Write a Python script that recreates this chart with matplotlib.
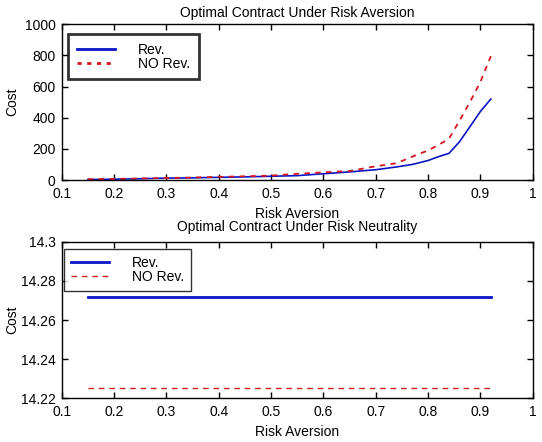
import matplotlib
matplotlib.use("Agg")
import matplotlib.pyplot as plt
from matplotlib.lines import Line2D

plt.rcParams['font.family'] = ['Liberation Sans', 'DejaVu Sans']

# Top panel data (risk aversion)
risk = [0.15, 0.20, 0.25, 0.30, 0.35, 0.40, 0.45, 0.50, 0.55, 0.60, 0.65,
        0.70, 0.74, 0.77, 0.80, 0.82, 0.84, 0.86, 0.88, 0.90, 0.92]
cost_rev = [3, 5, 8, 12, 14, 17, 20, 24, 28, 40, 52,
            66, 84, 100, 125, 150, 171, 245, 342, 440, 520]
cost_norev = [5, 7, 10, 13, 16, 20, 24, 28, 40, 49, 58,
              88, 108, 150, 190, 225, 265, 380, 500, 630, 795]

# Bottom panel data (risk neutrality)
risk_n = [0.15, 0.92]
neutral_rev = [14.2717, 14.2717]
neutral_norev = [14.2251, 14.2251]

xticks = [0.1, 0.2, 0.3, 0.4, 0.5, 0.6, 0.7, 0.8, 0.9, 1.0]
xticklabels = ['0.1', '0.2', '0.3', '0.4', '0.5', '0.6', '0.7', '0.8', '0.9', '1']
yticks_top = [0, 200, 400, 600, 800, 1000]
yticks_bot = [14.22, 14.24, 14.26, 14.28, 14.3]
yticklabels_bot = ['14.22', '14.24', '14.26', '14.28', '14.3']

BLUE = '#0b14c4'
RED = '#d4161c'
FS = 10

fig = plt.figure(figsize=(5.42, 4.42), dpi=100)
W, H = 542, 442
def ax_rect(l, t, r, b):
    return [l / W, 1 - b / H, (r - l) / W, (b - t) / H]

ax1 = fig.add_axes(ax_rect(61.7, 24.3, 532.7, 180))
ax2 = fig.add_axes(ax_rect(61.7, 241.7, 532.7, 398.3))

for ax in (ax1, ax2):
    ax.set_xlim(0.1, 1.0)
    ax.set_xticks(xticks)
    ax.set_xticklabels(xticklabels)
    ax.tick_params(direction='in', top=True, right=True, length=4, width=1,
                   labelsize=FS)
    ax.tick_params(axis='x', pad=5)
    ax.tick_params(axis='y', pad=4.5)
    for s in ax.spines.values():
        s.set_linewidth(1.0)
    ax.set_xlabel('Risk Aversion', fontsize=FS, labelpad=4)

ax1.set_ylabel('Cost', fontsize=FS, labelpad=4)
ax2.set_ylabel('Cost', fontsize=FS, labelpad=1)

# Top
ax1.plot(risk, cost_rev, color=BLUE, lw=1.2)
ax1.plot(risk, cost_norev, color=RED, lw=1.3, dashes=(3, 3))
ax1.set_ylim(0, 1000)
ax1.set_yticks(yticks_top)
ax1.set_title('Optimal Contract Under Risk Aversion', fontsize=FS, pad=5)
h1 = [Line2D([], [], color=BLUE, lw=2), Line2D([], [], color=RED, lw=2, dashes=(1.5, 2))]
leg1 = ax1.legend(h1, ['Rev.', 'NO Rev.'], loc='upper left',
                  bbox_to_anchor=(0.014, 0.936), borderaxespad=0, fontsize=FS,
                  frameon=True, fancybox=False, handlelength=2.75,
                  handletextpad=1.65, borderpad=0.62, labelspacing=0.0)
leg1.get_frame().set_edgecolor('black')
leg1.get_frame().set_linewidth(2)

# Bottom
ax2.plot(risk_n, neutral_rev, color=BLUE, lw=2)
ax2.plot(risk_n, neutral_norev, color=RED, lw=1, dashes=(4, 3.5))
ax2.set_ylim(14.22, 14.3)
ax2.set_yticks(yticks_bot)
ax2.set_yticklabels(yticklabels_bot)
ax2.set_title('Optimal Contract Under Risk Neutrality', fontsize=FS, pad=7.5)
h2 = [Line2D([], [], color=BLUE, lw=2), Line2D([], [], color=RED, lw=1, dashes=(4, 3.5))]
leg2 = ax2.legend(h2, ['Rev.', 'NO Rev.'], loc='upper left',
                  bbox_to_anchor=(0.0055, 0.951), borderaxespad=0, fontsize=FS,
                  frameon=True, fancybox=False, handlelength=2.75,
                  handletextpad=1.65, borderpad=0.5, labelspacing=0.0)
leg2.get_frame().set_edgecolor('black')
leg2.get_frame().set_linewidth(1)

fig.savefig('out.png', dpi=100)
